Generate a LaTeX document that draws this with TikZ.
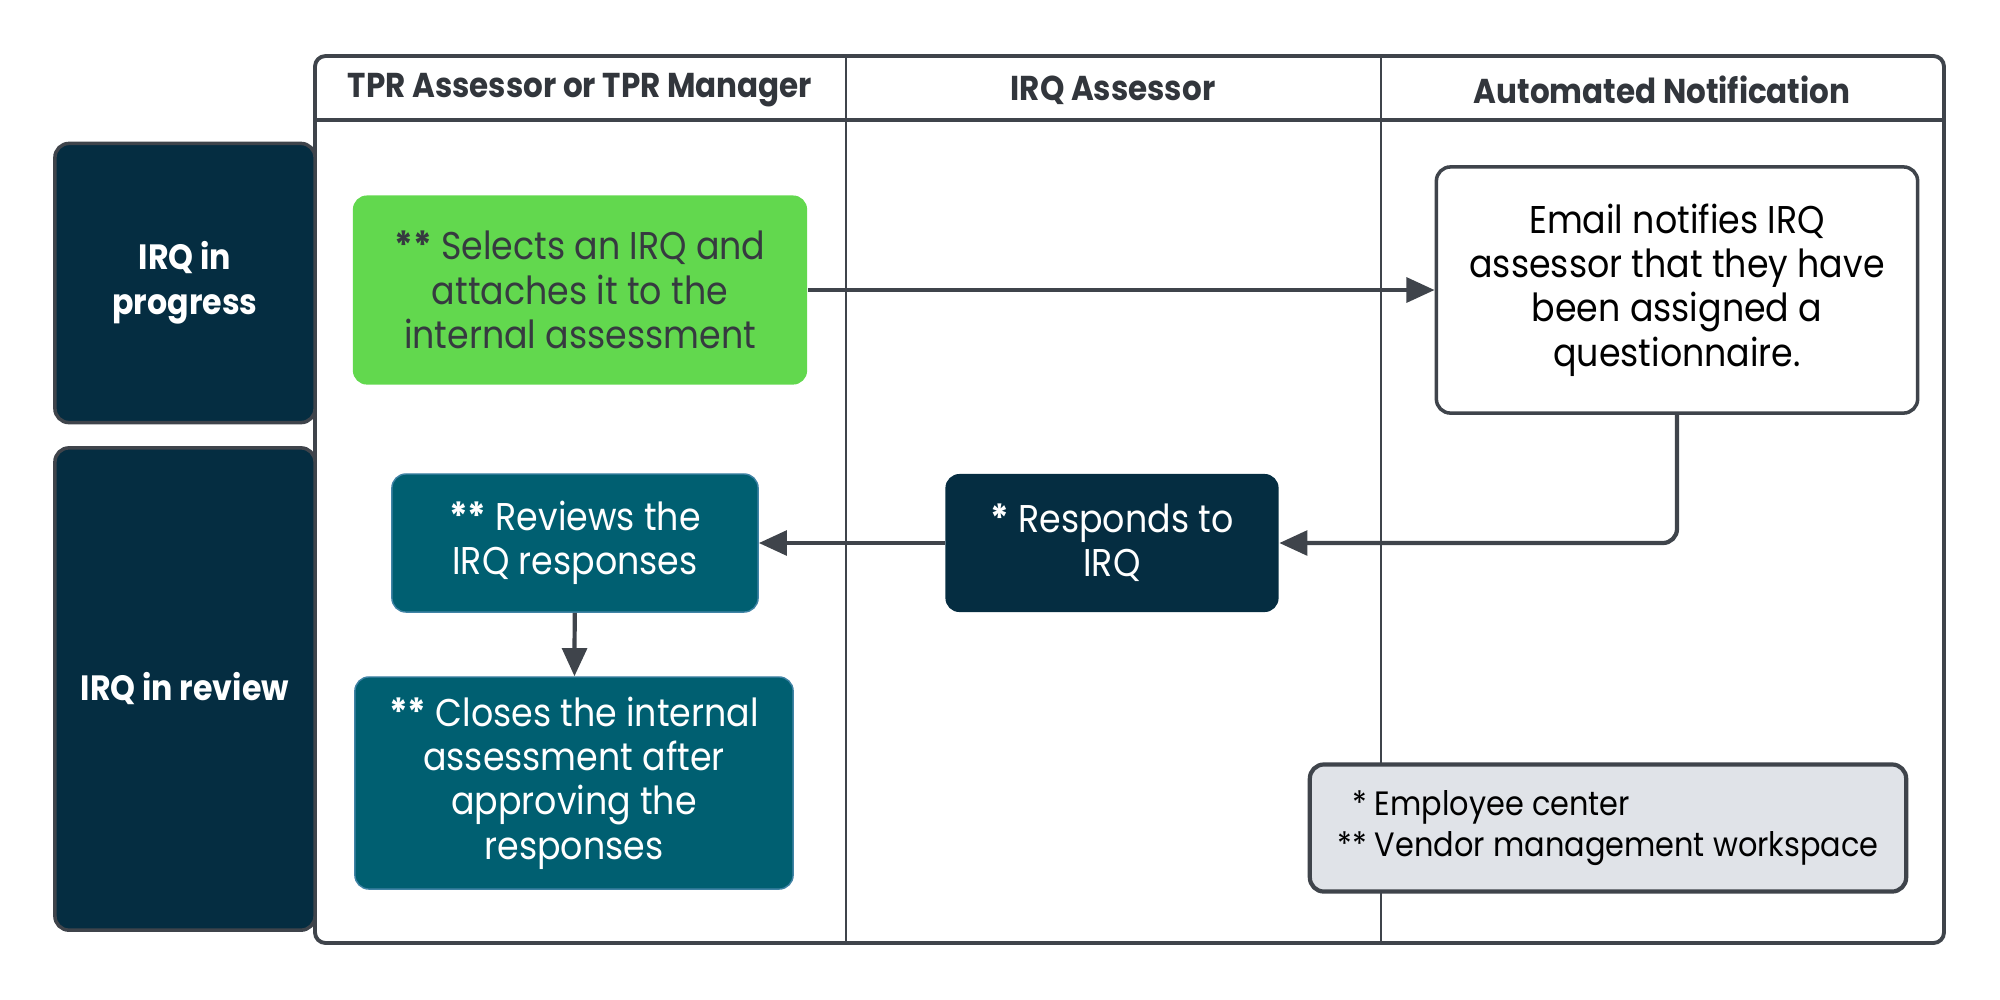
\documentclass[tikz,border=0pt]{standalone}
\usepackage{fontspec}
\setmainfont{Poppins}[FakeStretch=0.9]
\usepackage{xcolor}
\usepackage{tikz}
\usetikzlibrary{arrows.meta, positioning}

\definecolor{navy}{HTML}{052D41}
\definecolor{tealbox}{HTML}{005F71}
\definecolor{greenbox}{HTML}{62D84E}
\definecolor{edgegrey}{HTML}{3F444B}
\definecolor{notegrey}{HTML}{E0E3E8}

\begin{document}
\begin{tikzpicture}[x=0.01cm, y=-0.01cm,
    every node/.style={inner sep=0pt},
    txt/.style={font=\fontsize{11}{12.6}\selectfont, align=center},
    phase/.style={draw=edgegrey, line width=1pt, fill=navy, rounded corners=4pt,
        text=white, font=\bfseries\fontsize{10}{12.7}\selectfont, align=center,
        minimum width=2.6cm},
    lanehead/.style={font=\bfseries\fontsize{9.8}{11}\selectfont, text=edgegrey!80!black},
    stepbox/.style={txt, rounded corners=4pt, text=white},
    flow/.style={draw=edgegrey, line width=1.2pt, -{Triangle[length=8pt, width=7pt]}}]
        \useasboundingbox (0,0) rectangle (2000,999);

        % Pool and lanes
        \draw[edgegrey, line width=1.1pt, rounded corners=3pt] (315,56) rectangle (1944,943);
        \draw[edgegrey, line width=1.1pt] (315,120) -- (1944,120);
        \draw[edgegrey, line width=0.8pt] (846,56) -- (846,943);
        \draw[edgegrey, line width=0.8pt] (1381,56) -- (1381,943);
        \node[lanehead] (h1) at (580,90) {TPR Assessor or TPR Manager};
        \node[lanehead] (h2) at (1113,90) {IRQ Assessor};
        \node[lanehead] (h3) at (1662,90) {Automated Notification};

        % Phases
        \node[phase, minimum height=2.79cm] (progress) at (185,283) {IRQ in\\progress};
        \node[phase, minimum height=4.82cm] (review) at (185,689) {IRQ in review};

        % Steps
        \node[stepbox, fill=greenbox, text=edgegrey!85!black, minimum width=4.54cm, minimum height=1.89cm]
            (select) at (580,290) {\textbf{**} Selects an IRQ and\\attaches it to the\\internal assessment};
        \node[txt, draw=edgegrey, line width=1pt, fill=white, rounded corners=4pt, minimum width=4.81cm, minimum height=2.46cm]
            (email) at (1677,290) {Email notifies IRQ\\assessor that they have\\been assigned a\\questionnaire.};
        \node[stepbox, fill=navy, minimum width=3.33cm, minimum height=1.38cm]
            (respond) at (1112,543) {\textbf{*} Responds to\\IRQ};
        \node[stepbox, fill=tealbox, draw=cyan!35!tealbox, minimum width=3.66cm, minimum height=1.38cm]
            (reviews) at (575,543) {\textbf{**} Reviews the\\IRQ responses};
        \node[stepbox, fill=tealbox, draw=cyan!35!tealbox, minimum width=4.38cm, minimum height=2.12cm]
            (close) at (574,783) {\textbf{**} Closes the internal\\assessment after\\approving the\\responses};

        % Legend
        \node[txt, font=\fontsize{9.6}{11.5}\selectfont, draw=edgegrey, line width=1.2pt, fill=notegrey, rounded corners=4pt,
            minimum width=5.96cm, minimum height=1.27cm]
            (legend) at (1608,828) {\begin{tabular}{@{}r@{ }l@{}}*&Employee center\\{}**&Vendor management workspace\end{tabular}};

        % Connectors
        \draw[flow] (select) -- (email);
        \draw[flow, rounded corners=4pt] (email.south) |- (respond.east);
        \draw[flow] (respond) -- (reviews);
        \draw[flow] (reviews) -- (close);
\end{tikzpicture}
\end{document}
